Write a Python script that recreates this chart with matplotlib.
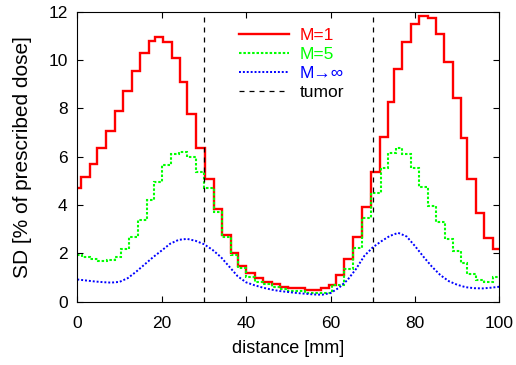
import matplotlib
matplotlib.use("Agg")
import matplotlib.pyplot as plt

plt.rcParams['font.family'] = ['Liberation Sans', 'DejaVu Sans']

# M=1 : step edges [mm] and SD values [%]
m1_edges = [0, 0.9, 2.9, 4.7, 6.9, 8.9, 10.9, 12.9, 14.8, 17.0,
            18.4, 20.2, 22.4, 24.4, 26.1, 28.1, 30.2, 32.4, 34.3, 36.4,
            38.0, 40.0, 42.0, 44.0, 46.0, 48.0, 50.0, 54.0, 57.8, 59.5,
            61.3, 63.2, 65.3, 67.4, 69.5, 71.6, 73.5, 75.0, 77.0, 79.0,
            81.0, 83.0, 85.0, 86.9, 88.9, 90.8, 92.4, 94.4, 96.4, 98.4, 100]
m1_sd = [4.69, 5.17, 5.70, 6.36, 7.06, 7.89, 8.73, 9.56, 10.28, 10.78,
         10.97, 10.74, 10.10, 9.08, 7.75, 6.36, 5.06, 3.82, 2.76, 2.00,
         1.48, 1.17, 0.99, 0.83, 0.73, 0.62, 0.55, 0.49, 0.55, 0.69,
         1.10, 1.77, 2.69, 3.90, 5.36, 6.83, 8.28, 9.63, 10.73, 11.49,
         11.83, 11.73, 11.08, 9.93, 8.41, 6.76, 5.06, 3.66, 2.62, 2.17]

# M=5
m5_edges = [0, 1.0, 3.0, 5.0, 7.0, 9.0, 10.3, 12.3, 14.3, 16.4,
            18.2, 20.1, 22.1, 24.1, 26.1, 28.1, 30.1, 32.3, 34.3, 36.4,
            38.0, 40.0, 42.0, 44.0, 46.0, 48.0, 50.0, 54.0, 60.3, 63.2,
            65.2, 67.4, 69.6, 72.0, 73.6, 75.4, 77.0, 79.0, 81.0, 83.0,
            85.0, 87.0, 89.0, 91.0, 92.4, 94.4, 96.4, 98.4, 100]
m5_sd = [1.95, 1.85, 1.76, 1.70, 1.72, 1.85, 2.20, 2.69, 3.38, 4.20,
         4.96, 5.65, 6.11, 6.19, 5.97, 5.38, 4.69, 3.72, 2.69, 1.93,
         1.38, 1.03, 0.83, 0.73, 0.62, 0.52, 0.45, 0.38, 0.69, 1.35,
         2.23, 3.45, 4.48, 5.52, 6.17, 6.37, 6.10, 5.52, 4.73, 3.98,
         3.30, 2.60, 2.11, 1.59, 1.15, 0.90, 0.81, 1.01]

# M -> infinity
minf_x = [0, 2, 4, 6, 8, 10, 12, 14, 16, 18, 20, 22, 24, 26, 28, 30, 32, 34,
          36, 38, 40, 42, 44, 46, 48, 50, 52, 54, 56, 58, 60, 62, 64, 66, 68,
          70, 72, 74, 76, 78, 80, 82, 84, 86, 88, 90, 92, 94, 96, 98, 100]
minf_sd = [0.92, 0.88, 0.84, 0.81, 0.79, 0.82, 0.98, 1.25, 1.55, 1.85, 2.12,
           2.40, 2.56, 2.60, 2.52, 2.38, 2.15, 1.85, 1.45, 1.05, 0.80, 0.68,
           0.58, 0.50, 0.44, 0.40, 0.36, 0.33, 0.30, 0.29, 0.36, 0.58, 0.90,
           1.35, 1.90, 2.25, 2.50, 2.72, 2.85, 2.70, 2.30, 1.86, 1.45, 1.10,
           0.85, 0.70, 0.60, 0.56, 0.55, 0.58, 0.62]

tumor_edges = [30, 70]

fig = plt.figure(figsize=(5.16, 3.65), dpi=100)
ax = fig.add_axes([0.1498, 0.1734, 0.8182, 0.7945])

ax.stairs(m1_sd, m1_edges, baseline=None, color='#ff0000', lw=1.7, label='M=1')
ax.stairs(m5_sd, m5_edges, baseline=None, color='#00ff00', lw=1.5,
          linestyle=(0, (1.2, 0.9)), label='M=5')
ax.plot(minf_x, minf_sd, color='#0000ff', lw=1.4, linestyle=(0, (1, 1)),
        label='M\u2192\u221e')
for i, t in enumerate(tumor_edges):
    ax.axvline(t, color='black', lw=0.9, linestyle=(0, (4, 4)),
               label='tumor' if i == 0 else None)

ax.set_xlim(0, 100)
ax.set_ylim(0, 12)
ax.set_xticks([0, 20, 40, 60, 80, 100])
ax.set_yticks([0, 2, 4, 6, 8, 10, 12])
ax.tick_params(direction='in', top=True, right=True, length=4.5, width=0.8,
               labelsize=12.5)
ax.tick_params(axis='x', pad=10.5)
ax.tick_params(axis='y', pad=7)
for s in ax.spines.values():
    s.set_linewidth(0.8)

ax.set_xlabel('distance [mm]', fontsize=13, labelpad=6.5)
ax.set_ylabel('SD [% of prescribed dose]', fontsize=15, labelpad=12)

leg = ax.legend(loc='upper left', bbox_to_anchor=(0.35, 0.993), frameon=False,
                fontsize=12.5, handlelength=2.9, handletextpad=0.6,
                labelspacing=0.22, borderpad=0.3)
for txt, line in zip(leg.get_texts(), leg.get_lines()):
    txt.set_color(line.get_color())
leg.get_texts()[-1].set_color('black')

fig.savefig('out.png', dpi=100)
